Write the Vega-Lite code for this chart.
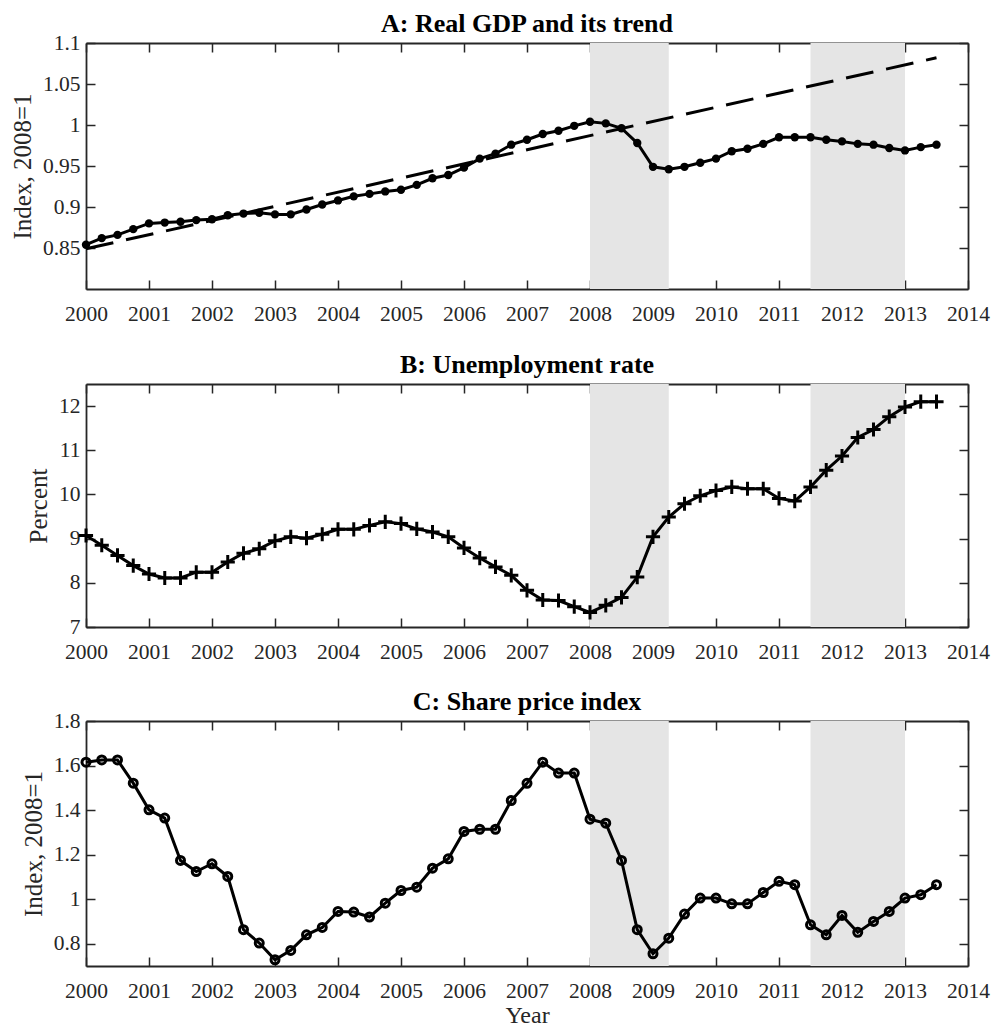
{
  "$schema": "https://vega.github.io/schema/vega-lite/v6.json",
  "background": "white",
  "padding": {"left": 10, "top": 11, "right": 5, "bottom": 0},
  "spacing": 26,
  "config": {
    "font": "Liberation Serif",
    "view": {"stroke": null},
    "axis": {
      "domainColor": "#262626", "domainWidth": 1.8,
      "tickColor": "#262626", "tickWidth": 1.5, "tickSize": -9,
      "labelColor": "#262626", "labelFont": "Liberation Serif", "labelFontSize": 21.5,
      "titleFont": "Liberation Serif", "titleFontSize": 25, "titleFontWeight": "normal", "titleColor": "#262626",
      "grid": false, "labelFlush": false, "labelOverlap": false, "titlePadding": 7
    },
    "title": {"font": "Liberation Serif", "fontSize": 26, "fontWeight": "bold", "color": "black", "anchor": "middle", "baseline": "alphabetic", "frame": "group", "offset": 5.4}
  },
  "datasets": {
    "shade": [{"start": 2008, "end": 2009.25}, {"start": 2011.5, "end": 2013}],
    "trend": [{"t": 2000, "v": 0.849}, {"t": 2013.5, "v": 1.082}],
    "series": [
      {"t": 2000.00, "gdp": 0.854, "unemp": 9.07, "share": 1.615},
      {"t": 2000.25, "gdp": 0.862, "unemp": 8.85, "share": 1.625},
      {"t": 2000.50, "gdp": 0.866, "unemp": 8.62, "share": 1.625},
      {"t": 2000.75, "gdp": 0.873, "unemp": 8.39, "share": 1.521},
      {"t": 2001.00, "gdp": 0.880, "unemp": 8.20, "share": 1.401},
      {"t": 2001.25, "gdp": 0.881, "unemp": 8.11, "share": 1.364},
      {"t": 2001.50, "gdp": 0.882, "unemp": 8.11, "share": 1.174},
      {"t": 2001.75, "gdp": 0.884, "unemp": 8.24, "share": 1.124},
      {"t": 2002.00, "gdp": 0.885, "unemp": 8.24, "share": 1.159},
      {"t": 2002.25, "gdp": 0.890, "unemp": 8.47, "share": 1.102},
      {"t": 2002.50, "gdp": 0.892, "unemp": 8.67, "share": 0.863},
      {"t": 2002.75, "gdp": 0.893, "unemp": 8.77, "share": 0.803},
      {"t": 2003.00, "gdp": 0.891, "unemp": 8.95, "share": 0.728},
      {"t": 2003.25, "gdp": 0.891, "unemp": 9.04, "share": 0.770},
      {"t": 2003.50, "gdp": 0.897, "unemp": 9.01, "share": 0.840},
      {"t": 2003.75, "gdp": 0.903, "unemp": 9.10, "share": 0.873},
      {"t": 2004.00, "gdp": 0.908, "unemp": 9.21, "share": 0.945},
      {"t": 2004.25, "gdp": 0.913, "unemp": 9.21, "share": 0.942},
      {"t": 2004.50, "gdp": 0.916, "unemp": 9.30, "share": 0.920},
      {"t": 2004.75, "gdp": 0.919, "unemp": 9.38, "share": 0.982},
      {"t": 2005.00, "gdp": 0.921, "unemp": 9.34, "share": 1.039},
      {"t": 2005.25, "gdp": 0.927, "unemp": 9.22, "share": 1.054},
      {"t": 2005.50, "gdp": 0.935, "unemp": 9.15, "share": 1.139},
      {"t": 2005.75, "gdp": 0.939, "unemp": 9.04, "share": 1.181},
      {"t": 2006.00, "gdp": 0.948, "unemp": 8.79, "share": 1.304},
      {"t": 2006.25, "gdp": 0.959, "unemp": 8.56, "share": 1.314},
      {"t": 2006.50, "gdp": 0.965, "unemp": 8.36, "share": 1.314},
      {"t": 2006.75, "gdp": 0.976, "unemp": 8.17, "share": 1.443},
      {"t": 2007.00, "gdp": 0.982, "unemp": 7.83, "share": 1.520},
      {"t": 2007.25, "gdp": 0.989, "unemp": 7.61, "share": 1.615},
      {"t": 2007.50, "gdp": 0.993, "unemp": 7.60, "share": 1.566},
      {"t": 2007.75, "gdp": 0.999, "unemp": 7.46, "share": 1.566},
      {"t": 2008.00, "gdp": 1.004, "unemp": 7.33, "share": 1.359},
      {"t": 2008.25, "gdp": 1.002, "unemp": 7.49, "share": 1.341},
      {"t": 2008.50, "gdp": 0.996, "unemp": 7.67, "share": 1.174},
      {"t": 2008.75, "gdp": 0.978, "unemp": 8.13, "share": 0.863},
      {"t": 2009.00, "gdp": 0.949, "unemp": 9.04, "share": 0.755},
      {"t": 2009.25, "gdp": 0.946, "unemp": 9.49, "share": 0.825},
      {"t": 2009.50, "gdp": 0.949, "unemp": 9.79, "share": 0.933},
      {"t": 2009.75, "gdp": 0.954, "unemp": 9.97, "share": 1.005},
      {"t": 2010.00, "gdp": 0.959, "unemp": 10.09, "share": 1.005},
      {"t": 2010.25, "gdp": 0.968, "unemp": 10.17, "share": 0.979},
      {"t": 2010.50, "gdp": 0.971, "unemp": 10.13, "share": 0.979},
      {"t": 2010.75, "gdp": 0.977, "unemp": 10.13, "share": 1.030},
      {"t": 2011.00, "gdp": 0.985, "unemp": 9.91, "share": 1.080},
      {"t": 2011.25, "gdp": 0.985, "unemp": 9.85, "share": 1.065},
      {"t": 2011.50, "gdp": 0.985, "unemp": 10.17, "share": 0.885},
      {"t": 2011.75, "gdp": 0.982, "unemp": 10.55, "share": 0.840},
      {"t": 2012.00, "gdp": 0.980, "unemp": 10.87, "share": 0.927},
      {"t": 2012.25, "gdp": 0.977, "unemp": 11.29, "share": 0.851},
      {"t": 2012.50, "gdp": 0.976, "unemp": 11.47, "share": 0.900},
      {"t": 2012.75, "gdp": 0.972, "unemp": 11.76, "share": 0.945},
      {"t": 2013.00, "gdp": 0.969, "unemp": 11.98, "share": 1.005},
      {"t": 2013.25, "gdp": 0.973, "unemp": 12.10, "share": 1.020},
      {"t": 2013.50, "gdp": 0.976, "unemp": 12.10, "share": 1.065}
    ]
  },
  "vconcat": [
    {
      "width": 882, "height": 246,
      "title": {"text": "A: Real GDP and its trend", "offset": -5.3},
      "layer": [
        {"data": {"name": "shade"}, "mark": {"type": "rect", "color": "#e5e5e5"},
         "encoding": {
           "x": {"field": "start", "type": "quantitative", "scale": {"domain": [2000, 2014], "nice": false, "zero": false},
                 "axis": {"orient": "bottom", "values": [2000,2001,2002,2003,2004,2005,2006,2007,2008,2009,2010,2011,2012,2013,2014], "format": "d", "title": null, "labelPadding": 23.5}},
           "x2": {"field": "end"}}},
        {"data": {"name": "trend"}, "mark": {"type": "line", "color": "black", "strokeWidth": 3, "strokeDash": [28, 13]},
         "encoding": {
           "x": {"field": "t", "type": "quantitative", "scale": {"domain": [2000, 2014], "nice": false, "zero": false}, "axis": null},
           "y": {"field": "v", "type": "quantitative", "scale": {"domain": [0.8, 1.1], "nice": false, "zero": false},
                 "axis": {"orient": "left", "values": [0.85, 0.9, 0.95, 1, 1.05, 1.1], "format": "~g", "title": "Index, 2008=1", "labelPadding": 15}}}},
        {"data": {"name": "series"}, "mark": {"type": "line", "color": "black", "strokeWidth": 3},
         "encoding": {
           "x": {"field": "t", "type": "quantitative", "scale": {"domain": [2000, 2014], "nice": false, "zero": false}, "axis": null},
           "y": {"field": "gdp", "type": "quantitative", "scale": {"domain": [0.8, 1.1], "nice": false, "zero": false}, "axis": null}}},
        {"data": {"name": "series"}, "mark": {"type": "point", "shape": "circle", "filled": true, "color": "black", "size": 70, "opacity": 1},
         "encoding": {
           "x": {"field": "t", "type": "quantitative", "scale": {"domain": [2000, 2014], "nice": false, "zero": false}, "axis": null},
           "y": {"field": "gdp", "type": "quantitative", "scale": {"domain": [0.8, 1.1], "nice": false, "zero": false}, "axis": null}}},
        {"data": {"name": "series"}, "mark": {"type": "point", "opacity": 0},
         "encoding": {
           "x": {"field": "t", "type": "quantitative", "scale": {"domain": [2000, 2014], "nice": false, "zero": false},
                 "axis": {"orient": "top", "values": [2000,2001,2002,2003,2004,2005,2006,2007,2008,2009,2010,2011,2012,2013,2014], "labels": false, "title": null, "minExtent": 0, "maxExtent": 0}},
           "y": {"field": "gdp", "type": "quantitative", "scale": {"domain": [0.8, 1.1], "nice": false, "zero": false},
                 "axis": {"orient": "right", "values": [0.85, 0.9, 0.95, 1, 1.05, 1.1], "labels": false, "title": null, "minExtent": 0, "maxExtent": 0}}}}
      ],
      "resolve": {"axis": {"x": "independent", "y": "independent"}}
    },
    {
      "width": 882, "height": 243,
      "title": {"text": "B: Unemployment rate"},
      "layer": [
        {"data": {"name": "shade"}, "mark": {"type": "rect", "color": "#e5e5e5"},
         "encoding": {
           "x": {"field": "start", "type": "quantitative", "scale": {"domain": [2000, 2014], "nice": false, "zero": false},
                 "axis": {"orient": "bottom", "values": [2000,2001,2002,2003,2004,2005,2006,2007,2008,2009,2010,2011,2012,2013,2014], "format": "d", "title": null, "labelPadding": 23.5}},
           "x2": {"field": "end"}}},
        {"data": {"name": "series"}, "mark": {"type": "line", "color": "black", "strokeWidth": 3},
         "encoding": {
           "x": {"field": "t", "type": "quantitative", "scale": {"domain": [2000, 2014], "nice": false, "zero": false}, "axis": null},
           "y": {"field": "unemp", "type": "quantitative", "scale": {"domain": [7, 12.5], "nice": false, "zero": false},
                 "axis": {"orient": "left", "values": [7, 8, 9, 10, 11, 12], "format": "d", "title": "Percent", "labelPadding": 15}}}},
        {"data": {"name": "series"}, "mark": {"type": "point", "shape": "M-1,0H1M0,-1V1", "filled": false, "color": "black", "strokeWidth": 3, "size": 200, "opacity": 1},
         "encoding": {
           "x": {"field": "t", "type": "quantitative", "scale": {"domain": [2000, 2014], "nice": false, "zero": false}, "axis": null},
           "y": {"field": "unemp", "type": "quantitative", "scale": {"domain": [7, 12.5], "nice": false, "zero": false}, "axis": null}}},
        {"data": {"name": "series"}, "mark": {"type": "point", "opacity": 0},
         "encoding": {
           "x": {"field": "t", "type": "quantitative", "scale": {"domain": [2000, 2014], "nice": false, "zero": false},
                 "axis": {"orient": "top", "values": [2000,2001,2002,2003,2004,2005,2006,2007,2008,2009,2010,2011,2012,2013,2014], "labels": false, "title": null, "minExtent": 0, "maxExtent": 0}},
           "y": {"field": "unemp", "type": "quantitative", "scale": {"domain": [7, 12.5], "nice": false, "zero": false},
                 "axis": {"orient": "right", "values": [7, 8, 9, 10, 11, 12], "labels": false, "title": null, "minExtent": 0, "maxExtent": 0}}}}
      ],
      "resolve": {"axis": {"x": "independent", "y": "independent"}}
    },
    {
      "width": 882, "height": 245,
      "title": {"text": "C: Share price index", "offset": -5.3},
      "layer": [
        {"data": {"name": "shade"}, "mark": {"type": "rect", "color": "#e5e5e5"},
         "encoding": {
           "x": {"field": "start", "type": "quantitative", "scale": {"domain": [2000, 2014], "nice": false, "zero": false},
                 "axis": {"orient": "bottom", "values": [2000,2001,2002,2003,2004,2005,2006,2007,2008,2009,2010,2011,2012,2013,2014], "format": "d", "title": "Year", "labelPadding": 23.5, "titlePadding": 1.5, "titleFontSize": 24}},
           "x2": {"field": "end"}}},
        {"data": {"name": "series"}, "mark": {"type": "line", "color": "black", "strokeWidth": 3},
         "encoding": {
           "x": {"field": "t", "type": "quantitative", "scale": {"domain": [2000, 2014], "nice": false, "zero": false}, "axis": null},
           "y": {"field": "share", "type": "quantitative", "scale": {"domain": [0.7, 1.8], "nice": false, "zero": false},
                 "axis": {"orient": "left", "values": [0.8, 1, 1.2, 1.4, 1.6, 1.8], "format": "~g", "title": "Index, 2008=1", "labelPadding": 15}}}},
        {"data": {"name": "series"}, "mark": {"type": "point", "shape": "circle", "filled": false, "color": "black", "strokeWidth": 3, "size": 64, "opacity": 1},
         "encoding": {
           "x": {"field": "t", "type": "quantitative", "scale": {"domain": [2000, 2014], "nice": false, "zero": false}, "axis": null},
           "y": {"field": "share", "type": "quantitative", "scale": {"domain": [0.7, 1.8], "nice": false, "zero": false}, "axis": null}}},
        {"data": {"name": "series"}, "mark": {"type": "point", "opacity": 0},
         "encoding": {
           "x": {"field": "t", "type": "quantitative", "scale": {"domain": [2000, 2014], "nice": false, "zero": false},
                 "axis": {"orient": "top", "values": [2000,2001,2002,2003,2004,2005,2006,2007,2008,2009,2010,2011,2012,2013,2014], "labels": false, "title": null, "minExtent": 0, "maxExtent": 0}},
           "y": {"field": "share", "type": "quantitative", "scale": {"domain": [0.7, 1.8], "nice": false, "zero": false},
                 "axis": {"orient": "right", "values": [0.8, 1, 1.2, 1.4, 1.6, 1.8], "labels": false, "title": null, "minExtent": 0, "maxExtent": 0}}}}
      ],
      "resolve": {"axis": {"x": "independent", "y": "independent"}}
    }
  ]
}
